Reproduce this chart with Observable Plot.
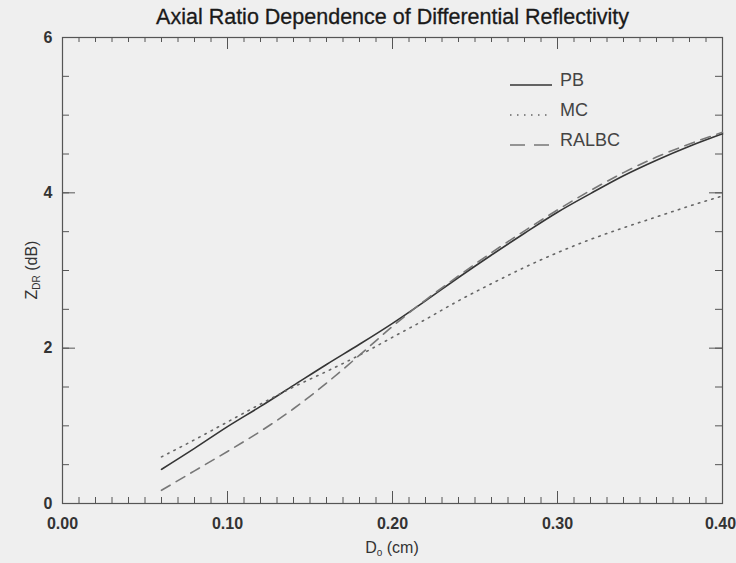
<!DOCTYPE html>
<html><head><meta charset="utf-8">
<script src="https://cdn.jsdelivr.net/npm/d3@7"></script>
<script src="https://cdn.jsdelivr.net/npm/@observablehq/plot@0.6"></script>
<style>
html,body{margin:0;padding:0;background:#efefef;}
svg{background:#efefef;}
</style></head><body><div id="chart"></div>
<script>
const diameters = [0.06,0.08,0.10,0.12,0.14,0.16,0.18,0.20,0.22,0.24,0.26,0.28,0.30,0.32,0.34,0.36,0.38,0.40];
const pb    = [0.44,0.71,0.99,1.25,1.52,1.79,2.05,2.32,2.61,2.91,3.20,3.48,3.75,3.99,4.22,4.42,4.60,4.76];
const mc    = [0.60,0.82,1.05,1.28,1.50,1.70,1.91,2.14,2.37,2.61,2.83,3.04,3.23,3.40,3.55,3.69,3.83,3.96];
const ralbc = [0.17,0.42,0.67,0.93,1.22,1.55,1.91,2.28,2.62,2.93,3.23,3.51,3.78,4.03,4.26,4.46,4.63,4.78];
const seriesNames = ["PB","MC","RALBC"];
const xTicks = [0,0.1,0.2,0.3,0.4];
const yTicks = [0,2,4,6];
const titleText = "Axial Ratio Dependence of Differential Reflectivity";

const W = 736, H = 563, mL = 62, mR = 14, mT = 37, mB = 60;
const fh = H - mT - mB, fw = W - mL - mR;
const xMinor = d3.range(0, 41).map(i => i / 100);
const yMinor = d3.range(0, 13).map(i => i / 2);

const toRows = (vals, name) => diameters.map((d, i) => ({d, v: vals[i], s: name}));
const rows = [...toRows(pb, seriesNames[0]), ...toRows(mc, seriesNames[1]), ...toRows(ralbc, seriesNames[2])];
const styles = {
  PB: {stroke: "#353535", dash: null, w: 1.6},
  MC: {stroke: "#666", dash: "1.5,5.5", w: 1.6},
  RALBC: {stroke: "#777", dash: "10,7", w: 1.6}
};
const ink = "#555";
const font = "'Liberation Sans', Arial, sans-serif";
const fmtX = d3.format(".2f");

const plot = Plot.plot({
  width: W, height: H,
  marginLeft: mL, marginRight: mR, marginTop: mT, marginBottom: mB,
  style: {background: "#efefef", fontFamily: font},
  x: {domain: [0, 0.4], axis: null},
  y: {domain: [0, 6], axis: null},
  marks: [
    Plot.tickX(xMinor, {x: d => d, insetTop: fh - 6, stroke: ink}),
    Plot.tickX(xMinor, {x: d => d, insetBottom: fh - 5, stroke: ink}),
    Plot.tickX(xTicks, {x: d => d, insetTop: fh - 12, stroke: ink}),
    Plot.tickX(xTicks, {x: d => d, insetBottom: fh - 12, stroke: ink}),
    Plot.tickY(yMinor, {y: d => d, insetRight: fw - 7, stroke: ink}),
    Plot.tickY(yMinor, {y: d => d, insetLeft: fw - 7, stroke: ink}),
    Plot.tickY(yTicks, {y: d => d, insetRight: fw - 13, stroke: ink}),
    Plot.tickY(yTicks, {y: d => d, insetLeft: fw - 13, stroke: ink}),
    Plot.frame({stroke: ink, strokeWidth: 1.2}),
    Plot.text(xTicks.slice(0, -1), {x: d => d, frameAnchor: "bottom", lineAnchor: "middle", dy: 20, text: d => fmtX(d), fontSize: 16, fontWeight: "bold", fill: "#333"}),
    Plot.text(xTicks.slice(-1), {x: d => d, frameAnchor: "bottom", lineAnchor: "middle", dy: 20, dx: -2, text: d => fmtX(d), fontSize: 16, fontWeight: "bold", fill: "#333"}),
    Plot.text(yTicks, {y: d => d, frameAnchor: "left", dx: -10, textAnchor: "end", text: d => String(d), fontSize: 16, fontWeight: "bold", fill: "#333"}),
    ...seriesNames.map(name => Plot.line(rows.filter(r => r.s === name), {
      x: "d", y: "v", stroke: styles[name].stroke, strokeWidth: styles[name].w,
      strokeDasharray: styles[name].dash, curve: "monotone-x"
    })),
    Plot.text([titleText], {frameAnchor: "top", lineAnchor: "middle", dy: -20, fontSize: 21.5, fill: "#1a1a1a", stroke: "#1a1a1a", strokeWidth: 0.3, text: d => d})
  ]
});
document.getElementById("chart").append(plot);

const svg = d3.select(plot);
// x-axis label with subscript
const xl = svg.append("text").attr("x", mL + fw / 2).attr("y", 553)
  .attr("text-anchor", "middle").attr("font-size", 16).attr("fill", "#333").attr("font-family", font);
xl.append("tspan").text("D");
xl.append("tspan").attr("font-size", 10).attr("dy", 3).text("o");
xl.append("tspan").attr("dy", -3).text(" (cm)");
// y-axis label with subscript
const yl = svg.append("text").attr("transform", `translate(37,${mT + fh / 2}) rotate(-90)`)
  .attr("text-anchor", "middle").attr("font-size", 16).attr("fill", "#333").attr("font-family", font);
yl.append("tspan").text("Z");
yl.append("tspan").attr("font-size", 10).attr("dy", 3).text("DR");
yl.append("tspan").attr("dy", -3).text(" (dB)");
// legend
const legY = [85, 115, 145];
seriesNames.forEach((name, i) => {
  svg.append("line").attr("x1", 510).attr("x2", 552).attr("y1", legY[i]).attr("y2", legY[i])
    .attr("stroke", styles[name].stroke).attr("stroke-width", styles[name].w)
    .attr("stroke-dasharray", name === "RALBC" ? "15,9" : styles[name].dash);
  svg.append("text").attr("x", 560).attr("y", legY[i] + 1).attr("font-size", 18).attr("text-anchor", "start")
    .attr("fill", "#444").attr("font-family", font).text(name);
});
</script></body></html>
